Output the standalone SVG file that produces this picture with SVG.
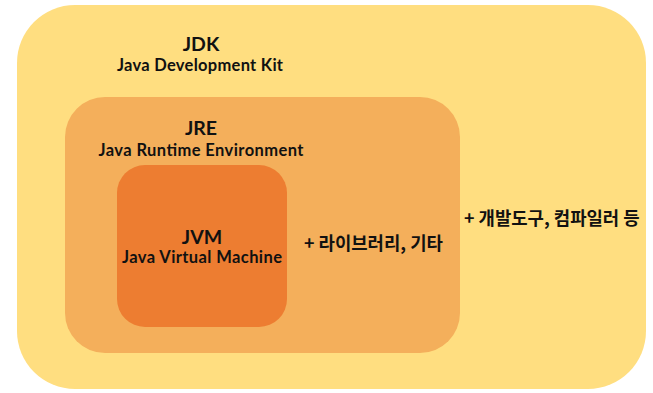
<svg xmlns="http://www.w3.org/2000/svg" width="653" height="393" viewBox="0 0 653 393">
<style>
text{font-family:Lato,"Noto Sans CJK KR",sans-serif;font-weight:700;fill:#111;text-anchor:middle}
.t{font-size:19.5px}
.s{font-size:16.5px}
.k{font-family:"Noto Sans CJK KR",sans-serif;font-size:17.8px;text-anchor:start}
</style>
<rect width="653" height="393" fill="#fff"/>
<g id="jdk">
<rect x="17" y="5" width="629" height="384" rx="58" ry="58" fill="#FFDE80"/>
<text class="t" x="201" y="51">JDK</text>
<text class="s" x="200" y="70.5" textLength="166" lengthAdjust="spacing">Java Development Kit</text>
<text class="k" x="464" y="225">+ 개발도구, 컴파일러 등</text>
</g>
<g id="jre">
<rect x="65" y="97" width="395" height="256" rx="40" ry="40" fill="#F4AF5B"/>
<text class="t" x="201" y="135">JRE</text>
<text class="s" x="201" y="156" textLength="205" lengthAdjust="spacing">Java Runtime Environment</text>
<text class="k" x="304" y="250">+ 라이브러리, 기타</text>
</g>
<g id="jvm">
<rect x="117" y="165" width="170" height="162" rx="28" ry="28" fill="#ED7D31"/>
<text class="t" x="202" y="244">JVM</text>
<text class="s" x="202" y="263" textLength="160" lengthAdjust="spacing">Java Virtual Machine</text>
</g>
<g id="connectors"/>
</svg>
